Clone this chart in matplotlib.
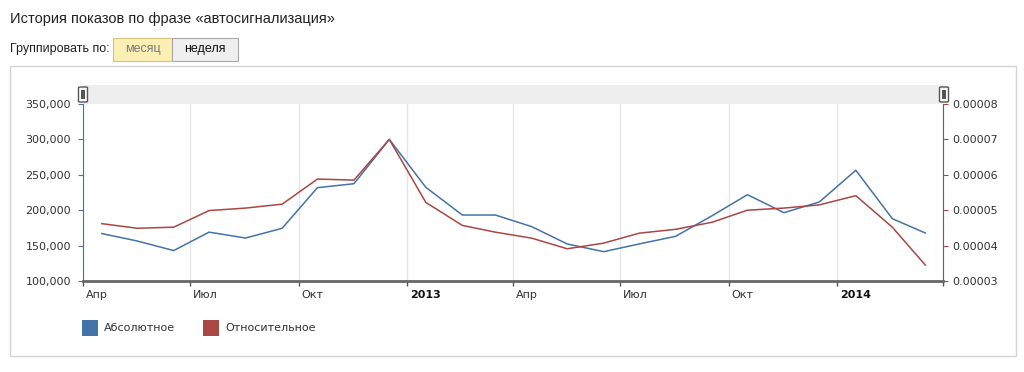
import matplotlib
matplotlib.use('Agg')
import matplotlib.pyplot as plt
import matplotlib.transforms as mtransforms
from matplotlib.patches import Rectangle, FancyBboxPatch
import pandas as pd

W, H = 1024, 372

# monthly data, Apr 2012 .. Mar 2014
months = pd.date_range('2012-04-01', '2014-03-01', freq='MS')
absolute = [167000, 156500, 143000, 169000, 160700, 174400, 231800, 237400,
            300000, 232300, 193200, 193200, 176700, 152300, 141400, 152300,
            163100, 192200, 221900, 196500, 211600, 256400, 188000, 167800]
relative = [0.0000462, 0.0000449, 0.0000452, 0.0000499, 0.0000506, 0.0000517,
            0.0000588, 0.0000585, 0.0000700, 0.0000522, 0.0000457, 0.0000438,
            0.0000421, 0.0000391, 0.0000407, 0.0000435, 0.0000446, 0.0000466,
            0.0000500, 0.0000506, 0.0000515, 0.0000541, 0.0000452, 0.0000345]
series_names = ['Абсолютное', 'Относительное']
left_ticks = [100000, 150000, 200000, 250000, 300000, 350000]
right_ticks = [0.00003, 0.00004, 0.00005, 0.00006, 0.00007, 0.00008]
tick_dates = pd.date_range('2012-04-01', '2014-04-01', freq='3MS')
tick_labels = ['Апр', 'Июл', 'Окт', '2013', 'Апр', 'Июл', 'Окт', '2014', '']

BLUE = '#4572A7'
RED = '#AA4643'

# points sit in the middle of each month
x = months + pd.Timedelta(days=16)

def fx(px):
    return px / W

def fy(py):
    return 1 - py / H

fig = plt.figure(figsize=(W / 100, H / 100), dpi=100)
fig.patch.set_facecolor('white')

# header
fig.text(fx(10), fy(19), 'История показов по фразе «автосигнализация»',
         family='Liberation Sans', fontsize=10.5, color='#222', va='center')
fig.text(fx(10), fy(49), 'Группировать по:', family='Liberation Sans',
         fontsize=9, color='#222', va='center')
fig.patches.append(Rectangle((fx(113), fy(61)), fx(172) - fx(113), fy(38) - fy(61),
                             transform=fig.transFigure, facecolor='#fcefb4',
                             edgecolor='#d6c27a', lw=0.8))
fig.patches.append(Rectangle((fx(172), fy(61)), fx(238) - fx(172), fy(38) - fy(61),
                             transform=fig.transFigure, facecolor='#efefef',
                             edgecolor='#a8a8a8', lw=0.8))
fig.text(fx(142.5), fy(49), 'месяц', family='Liberation Sans', fontsize=9,
         color='#777', ha='center', va='center')
fig.text(fx(205), fy(49), 'неделя', family='Liberation Sans', fontsize=9,
         color='#111', ha='center', va='center')

# chart frame (behind the axes)
fig.patches.append(Rectangle((fx(10), fy(356)), fx(1016) - fx(10), fy(66) - fy(356),
                             transform=fig.transFigure, facecolor='white',
                             edgecolor='#d4d4d4', lw=1, zorder=-10))
# navigator band
fig.patches.append(Rectangle((fx(83), fy(104)), fx(943) - fx(83), fy(85) - fy(104),
                             transform=fig.transFigure, facecolor='#eeeeee',
                             edgecolor='none', zorder=-5))
for hx in (83, 944):
    fig.patches.append(FancyBboxPatch((fx(hx - 4.5), fy(102)), fx(9), fy(87) - fy(102),
                                      boxstyle='round,pad=0.0,rounding_size=0.002',
                                      transform=fig.transFigure, facecolor='white',
                                      edgecolor='#555', lw=1.0, zorder=5))
    fig.patches.append(Rectangle((fx(hx - 2), fy(99)), fx(4), fy(90) - fy(99),
                                 transform=fig.transFigure, facecolor='#555',
                                 edgecolor='none', zorder=6))

ax = fig.add_axes([fx(83), fy(281), fx(943) - fx(83), fy(104) - fy(281)])
ax2 = ax.twinx()
ax.patch.set_visible(False)
ax2.patch.set_visible(False)

ax.plot(x, absolute, color=BLUE, lw=1.1)
ax2.plot(x, relative, color=RED, lw=1.1)

ax.set_xlim(pd.Timestamp('2012-04-01'), pd.Timestamp('2014-04-01'))
ax.set_ylim(100000, 350000)
ax2.set_ylim(0.00003, 0.00008)

ax.set_xticks(tick_dates)
ax.set_xticklabels(tick_labels)
ax.set_yticks(left_ticks)
ax.set_yticklabels([f'{v:,}' for v in left_ticks])
ax2.set_yticks(right_ticks)
ax2.set_yticklabels([f'{v:.5f}' for v in right_ticks])

ax.grid(axis='x', color='#e6e6e6', lw=1)
ax.set_axisbelow(True)

for s in ('top', 'right'):
    ax.spines[s].set_visible(False)
for s in ('top', 'left', 'bottom'):
    ax2.spines[s].set_visible(False)
ax.spines['left'].set_color(BLUE)
ax.spines['bottom'].set_color('#666')
ax.spines['bottom'].set_linewidth(2)
ax2.spines['right'].set_color(RED)

ax.tick_params(axis='y', colors=BLUE, length=3.6, width=0.8, pad=5,
               labelcolor='#333', labelsize=8)
ax2.tick_params(axis='y', colors=RED, length=3.6, width=0.8, pad=3,
                labelcolor='#333', labelsize=8)
ax.tick_params(axis='x', colors='#555', length=3.6, width=1, pad=3,
               labelcolor='#333', labelsize=8)

offset = mtransforms.ScaledTranslation(3 / 100, 0, fig.dpi_scale_trans)
for lbl in ax.get_xticklabels():
    lbl.set_horizontalalignment('left')
    lbl.set_transform(lbl.get_transform() + offset)
    if lbl.get_text().isdigit():
        lbl.set_fontweight('bold')
        lbl.set_color('#111')

# legend
for (lx, tx), name, col in zip([(82, 104), (203, 225)], series_names, [BLUE, RED]):
    fig.patches.append(Rectangle((fx(lx), fy(336)), fx(16), fy(320) - fy(336),
                                 transform=fig.transFigure, facecolor=col,
                                 edgecolor='none'))
    fig.text(fx(tx), fy(328), name, fontsize=8, color='#333', va='center')

fig.savefig('out.png', dpi=100)
